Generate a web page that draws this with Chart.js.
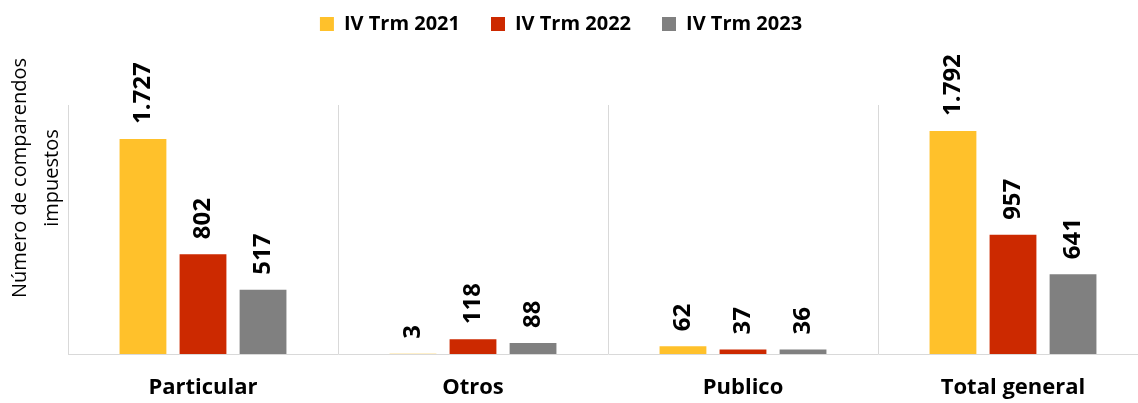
<!DOCTYPE html>
<html>
<head>
<meta charset="utf-8">
<script src="https://cdn.jsdelivr.net/npm/chart.js@4"></script>
<style>
  body { margin: 0; background: #fff; }
  .wrap { width: 1138px; height: 403px; overflow: hidden; }
</style>
</head>
<body>
<div class="wrap"><canvas id="myChart" width="1150" height="403"></canvas></div>
<script>
// datos del grafico
var categories = ['Particular', 'Otros', 'Publico', 'Total general']
var seriesNames = ['IV Trm 2021', 'IV Trm 2022', 'IV Trm 2023']
var serie2021 = [1727, 3, 62, 1792]
var serie2022 = [802, 118, 37, 957]
var serie2023 = [517, 88, 36, 641]
var seriesColors = ['#FFC12B', '#CC2900', '#808080']
var yTitle = ['Número de comparendos', 'impuestos']
var yMin = 0
var yMax = 2000

Chart.defaults.font.family = '"Open Sans", sans-serif'
Chart.defaults.color = '#000'

function fmt(v) {
  return v.toString().replace(/\B(?=(\d{3})+(?!\d))/g, '.')
}

// etiquetas de valor giradas encima de cada barra
var valueLabels = {
  id: 'valueLabels',
  afterDatasetsDraw: function(chart) {
    var ctx = chart.ctx
    chart.data.datasets.forEach(function(ds, i) {
      var meta = chart.getDatasetMeta(i)
      meta.data.forEach(function(bar, j) {
        ctx.save()
        ctx.translate(bar.x, bar.y - 15)
        ctx.rotate(-Math.PI / 2)
        ctx.font = 'bold 24px "Open Sans"'
        ctx.fillStyle = '#000'
        ctx.textAlign = 'left'
        ctx.textBaseline = 'middle'
        ctx.fillText(fmt(ds.data[j]), 0, 0)
        ctx.restore()
      })
    })
  }
}

// titulo del eje y (dos lineas, mas arriba que el centro del area)
var yAxisTitle = {
  id: 'yAxisTitle',
  afterDraw: function(chart) {
    var ctx = chart.ctx
    ctx.save()
    ctx.translate(26, 178)
    ctx.rotate(-Math.PI / 2)
    ctx.font = '20px "Open Sans"'
    ctx.fillStyle = '#000'
    ctx.textAlign = 'center'
    ctx.textBaseline = 'alphabetic'
    ctx.fillText(yTitle[0], 0, 0)
    ctx.fillText(yTitle[1], 0, 32)
    ctx.restore()
  }
}

// mover la leyenda arriba y a la izquierda
var legendShift = {
  id: 'legendShift',
  afterLayout: function(chart) {
    var l = chart.legend
    l.left -= 47
    l.right -= 47
    l.top -= 61
    l.bottom -= 61
  }
}

var ctx = document.getElementById('myChart').getContext('2d')
var chart = new Chart(ctx, {
  type: 'bar',
  data: {
    labels: categories,
    datasets: [
      { label: seriesNames[0], data: serie2021, backgroundColor: seriesColors[0], borderWidth: 0 },
      { label: seriesNames[1], data: serie2022, backgroundColor: seriesColors[1], borderWidth: 0 },
      { label: seriesNames[2], data: serie2023, backgroundColor: seriesColors[2], borderWidth: 0 }
    ]
  },
  options: {
    responsive: false,
    animation: false,
    categoryPercentage: 0.667,
    barPercentage: 0.78,
    layout: { padding: { left: 68, right: 2, top: 44, bottom: 2 } },
    plugins: {
      legend: {
        position: 'top',
        labels: {
          boxWidth: 14,
          boxHeight: 14,
          padding: 31,
          color: '#000',
          font: { size: 20, weight: 'bold' }
        }
      },
      tooltip: { enabled: false }
    },
    scales: {
      x: {
        grid: { color: '#D9D9D9', lineWidth: 1, drawTicks: false },
        border: { color: '#D9D9D9', width: 1 },
        ticks: { padding: 21, color: '#000', font: { size: 22, weight: 'bold' } },
        afterFit: function(scale) {
          scale.height = 47
        }
      },
      y: {
        display: false,
        min: yMin,
        max: yMax
      }
    }
  },
  plugins: [valueLabels, yAxisTitle, legendShift]
})
</script>
</body>
</html>
